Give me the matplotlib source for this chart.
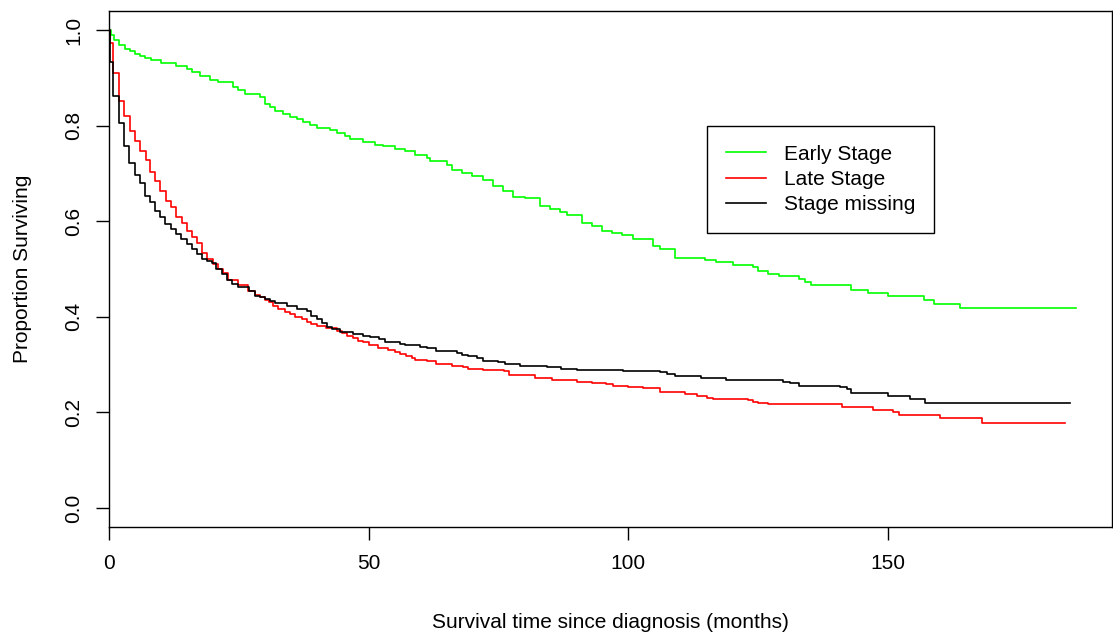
import matplotlib
matplotlib.use("Agg")
import matplotlib.pyplot as plt

# --------------- DATA ---------------
early_t = [0, 0.3, 1, 2, 3.1, 4, 5, 6, 7, 8, 10, 13, 15, 16, 17.5, 19.5, 21, 23.8, 24.8,
           26.2, 29, 30, 31, 32, 33.5, 34.9, 36.2, 37.4, 38.7, 40, 42.6, 43.9, 45.4, 46.4,
           48.9, 51.2, 52.8, 55.1, 57, 59, 61.2, 61.8, 65.1, 66, 68, 69.9, 72, 74, 75.9,
           77.8, 80.1, 83, 84.9, 86.9, 88.2, 91.1, 93, 94.9, 96.8, 98.8, 100.9, 104.8,
           106.1, 109, 114.8, 117, 120.2, 124, 125, 126.9, 129, 132.9, 134, 135.2, 143,
           146.2, 150, 157, 159, 163.9, 186.2]
early_s = [1.0, 0.99, 0.979, 0.968, 0.961, 0.957, 0.951, 0.946, 0.941, 0.938, 0.932, 0.925,
           0.918, 0.912, 0.904, 0.895, 0.891, 0.881, 0.874, 0.866, 0.86, 0.845, 0.839, 0.83,
           0.824, 0.818, 0.814, 0.808, 0.801, 0.795, 0.791, 0.785, 0.778, 0.772, 0.765,
           0.76, 0.757, 0.751, 0.747, 0.738, 0.732, 0.727, 0.718, 0.708, 0.701, 0.694,
           0.687, 0.674, 0.664, 0.651, 0.648, 0.632, 0.626, 0.619, 0.612, 0.596, 0.589,
           0.58, 0.576, 0.571, 0.563, 0.549, 0.542, 0.524, 0.519, 0.515, 0.508, 0.505,
           0.496, 0.49, 0.486, 0.479, 0.472, 0.467, 0.456, 0.45, 0.444, 0.436, 0.427,
           0.419, 0.419]

late_t = [0, 0.2, 0.8, 1.9, 2.9, 4.0, 5.0, 6.0, 7.05, 7.9, 8.9, 9.8, 11.0, 11.9, 12.9, 14.0,
          15.0, 15.9, 16.9, 17.9, 18.8, 20.1, 21.0, 22.0, 23.0, 24.8, 26.8, 28.1, 29.1,
          30.0, 30.9, 31.6, 32.6, 33.9, 34.9, 35.8, 37.1, 38.1, 39.0, 40.0, 41.8, 43.9,
          44.8, 45.8, 47.0, 48.0, 49.0, 50.0, 51.9, 53.8, 55.1, 56.0, 57.3, 58.3, 58.9,
          61.2, 63.0, 66.0, 68.2, 69.2, 72.1, 76.0, 77.1, 82.0, 85.3, 90.1, 93.0, 95.8,
          97.1, 100.0, 102.9, 106.1, 110.9, 113.2, 115.1, 116.3, 123.1, 124.0, 125.0,
          127.0, 141.1, 147.2, 151.1, 152.2, 160.1, 168.2, 184.2]
late_s = [1.0, 0.972, 0.911, 0.852, 0.821, 0.789, 0.768, 0.747, 0.728, 0.702, 0.685, 0.664,
          0.643, 0.629, 0.609, 0.596, 0.58, 0.566, 0.554, 0.533, 0.521, 0.51, 0.5, 0.491,
          0.476, 0.467, 0.455, 0.446, 0.441, 0.435, 0.43, 0.423, 0.416, 0.411, 0.406,
          0.399, 0.395, 0.39, 0.385, 0.381, 0.376, 0.371, 0.366, 0.36, 0.355, 0.35, 0.347,
          0.341, 0.334, 0.331, 0.326, 0.322, 0.317, 0.313, 0.31, 0.307, 0.301, 0.298,
          0.294, 0.291, 0.289, 0.287, 0.278, 0.271, 0.268, 0.264, 0.261, 0.259, 0.256,
          0.252, 0.25, 0.242, 0.238, 0.234, 0.231, 0.228, 0.225, 0.222, 0.22, 0.217,
          0.212, 0.204, 0.201, 0.195, 0.188, 0.178, 0.178]

missing_t = [0, 0.2, 0.8, 1.9, 2.9, 3.9, 5.0, 6.0, 6.9, 7.9, 8.9, 9.8, 10.8, 11.9, 12.9, 13.9,
             15.0, 16.0, 16.9, 17.9, 18.8, 19.8, 20.7, 21.7, 22.7, 23.6, 24.9, 27.0, 28.1,
             29.1, 30.0, 31.0, 32.0, 34.2, 36.2, 38.1, 39.0, 40.0, 41.0, 41.9, 42.9, 44.5,
             47.0, 49.0, 50.3, 52.0, 53.1, 56.0, 57.0, 59.9, 61.2, 63.0, 67.0, 68.0, 69.2,
             70.8, 72.1, 75.0, 76.3, 79.2, 84.3, 87.0, 90.1, 99.0, 106.1, 107.4, 109.0,
             114.1, 118.9, 129.8, 131.1, 132.9, 140.8, 142.1, 143.0, 150.1, 154.2, 157.1,
             185.2]
missing_s = [1.0, 0.933, 0.863, 0.805, 0.758, 0.721, 0.697, 0.679, 0.653, 0.64, 0.622, 0.608,
             0.594, 0.584, 0.573, 0.563, 0.552, 0.542, 0.531, 0.521, 0.516, 0.512, 0.5, 0.49,
             0.476, 0.469, 0.463, 0.455, 0.444, 0.441, 0.437, 0.432, 0.429, 0.423, 0.416,
             0.413, 0.402, 0.395, 0.387, 0.378, 0.374, 0.369, 0.365, 0.36, 0.357, 0.354,
             0.348, 0.344, 0.34, 0.336, 0.334, 0.329, 0.324, 0.32, 0.317, 0.313, 0.308,
             0.305, 0.301, 0.298, 0.294, 0.291, 0.289, 0.287, 0.284, 0.28, 0.276, 0.272,
             0.268, 0.264, 0.262, 0.256, 0.252, 0.248, 0.24, 0.234, 0.228, 0.22, 0.22]

labels = ["Early Stage", "Late Stage", "Stage missing"]
colors = ["#00ff00", "#ff0000", "#000000"]
x_ticks = [0, 50, 100, 150]
y_ticks = [0.0, 0.2, 0.4, 0.6, 0.8, 1.0]

# --------------- PLOT ---------------
plt.rcParams['font.family'] = ['Liberation Sans', 'DejaVu Sans']
fs = 15

fig = plt.figure(figsize=(11.13, 6.34), dpi=100)
ax = fig.add_axes([109 / 1113, (634 - 527) / 634, (1112 - 109) / 1113, (527 - 11) / 634])

for t, s, lab, col in zip([early_t, late_t, missing_t], [early_s, late_s, missing_s], labels, colors):
    ax.step(t, s, where='post', color=col, lw=1.2, label=lab)

ax.set_xlim(0, 193.2)
ax.set_ylim(-0.04, 1.04)
ax.set_xticks(x_ticks)
ax.set_xticklabels([str(v) for v in x_ticks])
ax.set_yticks(y_ticks)
ax.set_yticklabels(["%.1f" % v for v in y_ticks], rotation=90, va='center')
ax.tick_params(direction='out', length=9.5, width=1, labelsize=fs, colors='black')
ax.tick_params(axis='x', pad=10)
ax.tick_params(axis='y', pad=9)
for sp in ax.spines.values():
    sp.set_linewidth(1)
    sp.set_color('black')

ax.set_xlabel("Survival time since diagnosis (months)", fontsize=fs)
ax.set_ylabel("Proportion Surviving", fontsize=fs)
ax.xaxis.set_label_coords(0.5, -0.166)
ax.yaxis.set_label_coords(-0.077, 0.5)

leg = ax.legend(loc='upper left', bbox_to_anchor=((707 - 109) / 1003, (527 - 126) / 516),
                borderaxespad=0, fontsize=fs, frameon=True, fancybox=False,
                handlelength=1.92, handletextpad=0.87, labelspacing=0.3, borderpad=0.9)
leg.get_frame().set_edgecolor('black')
leg.get_frame().set_linewidth(1)
leg.get_frame().set_alpha(1)

fig.savefig("out.png", dpi=100)
